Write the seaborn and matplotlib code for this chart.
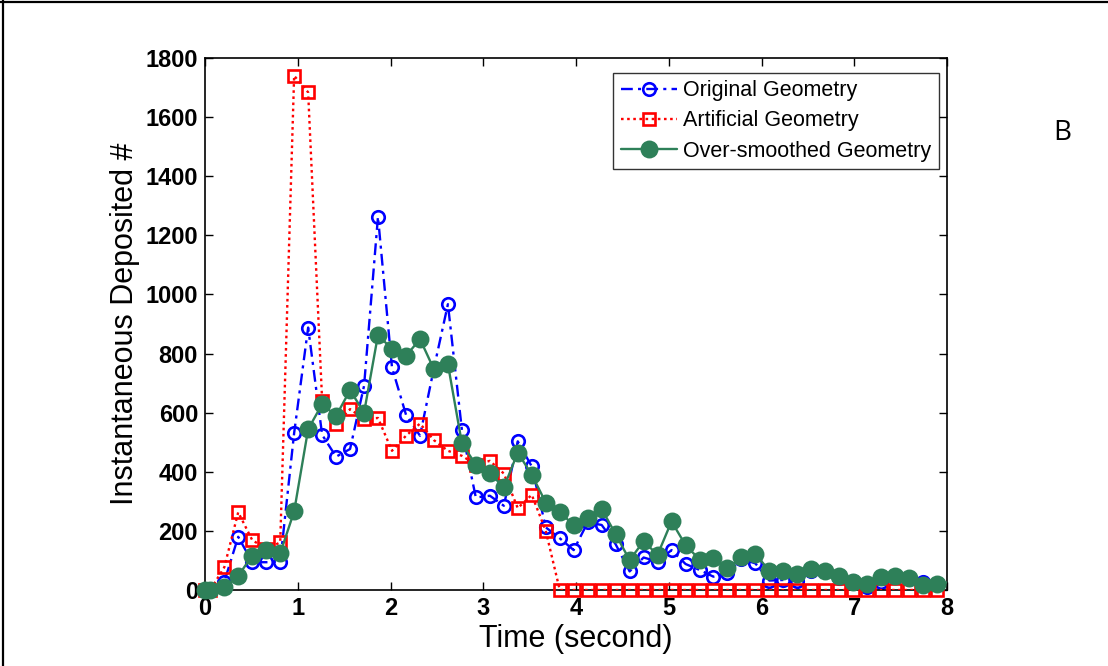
import numpy as np
import pandas as pd
import matplotlib
matplotlib.use("Agg")
import matplotlib.pyplot as plt
from matplotlib.lines import Line2D
import seaborn as sns

# Sample times (s)
time_s = [0.000, 0.057, 0.208, 0.358, 0.509, 0.660, 0.811, 0.961, 1.112, 1.263,
          1.413, 1.564, 1.715, 1.865, 2.016, 2.167, 2.318, 2.468, 2.619, 2.770,
          2.920, 3.071, 3.222, 3.372, 3.523, 3.674, 3.825, 3.975, 4.126, 4.277,
          4.427, 4.578, 4.729, 4.879, 5.030, 5.181, 5.332, 5.482, 5.633, 5.784,
          5.934, 6.085, 6.236, 6.386, 6.537, 6.688, 6.839, 6.989, 7.140, 7.291,
          7.441, 7.592, 7.743, 7.893, 8.044]

original = [0, 0, 28, 180, 94, 94, 96, 531, 888, 525,
            451, 477, 691, 1263, 753, 593, 522, 750, 967, 541,
            313, 319, 285, 503, 418, 212, 175, 135, 229, 220,
            155, 63, 110, 96, 135, 88, 68, 45, 57, 105,
            90, 32, 34, 32, 65, 65, 41, 32, 11, 26,
            43, 37, 26, 20, 15]

artificial = [0, 0, 77, 263, 169, 139, 161, 1740, 1684, 640,
              563, 612, 578, 582, 471, 522, 563, 507, 471, 454,
              424, 437, 394, 277, 322, 200, 0, 0, 0, 0,
              0, 0, 0, 0, 0, 0, 0, 0, 0, 0,
              0, 0, 0, 0, 0, 0, 0, 0, 0, 0,
              0, 0, 0, 0, np.nan]

smoothed = [0, 0, 10, 48, 116, 135, 124, 266, 544, 629,
            589, 676, 600, 863, 815, 792, 849, 747, 764, 496,
            424, 396, 347, 465, 390, 296, 263, 220, 242, 274,
            189, 101, 165, 119, 232, 152, 103, 107, 73, 110,
            122, 65, 63, 54, 71, 65, 48, 26, 20, 43,
            48, 41, 18, 20, 28]

series_names = ["Original Geometry", "Artificial Geometry", "Over-smoothed Geometry"]
x_ticks = [0, 1, 2, 3, 4, 5, 6, 7, 8]
y_ticks = [0, 200, 400, 600, 800, 1000, 1200, 1400, 1600, 1800]

sns.set_style("white")
plt.rcParams["font.family"] = ["Liberation Sans", "DejaVu Sans"]
plt.rcParams["text.color"] = "black"
plt.rcParams["axes.labelcolor"] = "black"
plt.rcParams["xtick.color"] = "black"
plt.rcParams["ytick.color"] = "black"

fig = plt.figure(figsize=(11.08, 6.66), dpi=100)
ax = fig.add_axes([0.18502, 0.11411, 0.66968, 0.79880])

styles = [
    dict(color="#0000FF", linestyle=(0, (5, 2.2, 1.3, 2.2)), marker="o", ms=9.0, mfc="none", z=2),
    dict(color="#FF0000", linestyle=(0, (1.1, 1.5)), marker="s", ms=9.2, mfc="none", z=3),
    dict(color="#2E8059", linestyle="-", marker="o", ms=11.0, mfc="#2E8059", z=4),
]
values = [original, artificial, smoothed]

handles = []
for name, vals, st in zip(series_names, values, styles):
    df = pd.DataFrame({"t": time_s, "v": vals}).dropna()
    # connecting line, clipped at the axes box
    sns.lineplot(data=df, x="t", y="v", ax=ax, color=st["color"],
                 linestyle=st["linestyle"], linewidth=1.7, zorder=st["z"],
                 clip_on=True, legend=False, errorbar=None, sort=False)
    # markers for samples inside the time window, drawn over the frame
    inside = df[(df["t"] >= 0) & (df["t"] <= 8)]
    sns.lineplot(data=inside, x="t", y="v", ax=ax, color=st["color"],
                 linestyle="none", marker=st["marker"], markersize=st["ms"],
                 markerfacecolor=st["mfc"], markeredgecolor=st["color"],
                 markeredgewidth=1.9, zorder=st["z"] + 0.5, clip_on=False,
                 legend=False, errorbar=None, sort=False)
    handles.append(Line2D([], [], color=st["color"], linestyle=st["linestyle"],
                          linewidth=1.7, marker=st["marker"], markersize=st["ms"],
                          markerfacecolor=st["mfc"], markeredgecolor=st["color"],
                          markeredgewidth=1.9))

ax.set_xlim(0, 8)
ax.set_ylim(0, 1800)
ax.set_xticks(x_ticks)
ax.set_yticks(y_ticks)
ax.set_xticklabels([str(v) for v in x_ticks], fontweight="bold", fontsize=17)
ax.set_yticklabels([str(v) for v in y_ticks], fontweight="bold", fontsize=17)
ax.tick_params(direction="in", length=6, width=1.0, top=True, right=True,
               bottom=True, left=True, pad=5, colors="black")
for sp in ax.spines.values():
    sp.set_visible(True)
    sp.set_color("black")
    sp.set_linewidth(1.2)

ax.set_xlabel("Time (second)", fontsize=22, labelpad=3)
ax.set_ylabel("Instantaneous Deposited #", fontsize=22, labelpad=4)

leg = ax.legend(handles, series_names, loc="upper right",
                bbox_to_anchor=(0.989, 0.972), borderaxespad=0,
                fontsize=15.5, frameon=True, fancybox=False,
                edgecolor="black", handlelength=2.6, handletextpad=0.3,
                labelspacing=0.42, borderpad=0.35)
leg.get_frame().set_linewidth(1.0)

fig.text(0.9585, 0.80, "B", fontsize=20, family=["Open Sans", "DejaVu Sans"],
         ha="center", va="center")

# outer panel border (top and left edges)
fig.add_artist(Line2D([0.0, 1.0], [0.9965, 0.9965], transform=fig.transFigure,
                      color="black", linewidth=1.6))
fig.add_artist(Line2D([0.0027, 0.0027], [0.0, 1.0], transform=fig.transFigure,
                      color="black", linewidth=1.6))

fig.savefig("out.png", dpi=100)
